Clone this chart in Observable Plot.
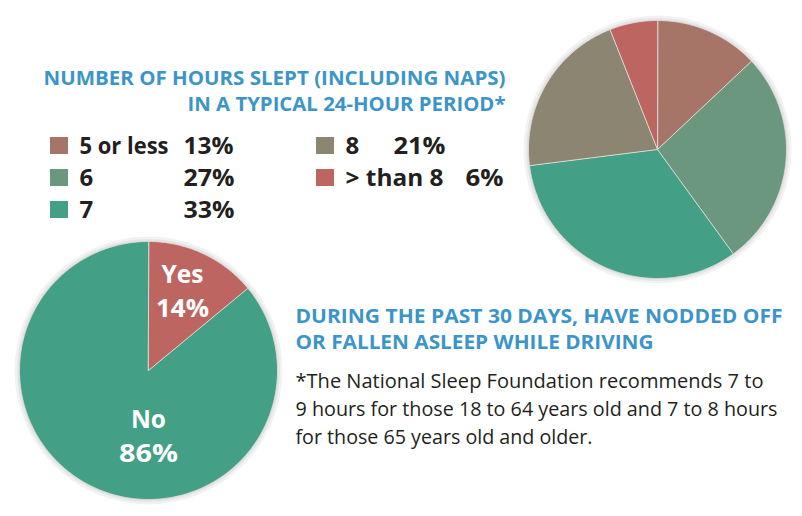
<!DOCTYPE html>
<html><head><meta charset="utf-8">
<script src="https://cdn.jsdelivr.net/npm/d3@7"></script>
<script src="https://cdn.jsdelivr.net/npm/@observablehq/plot@0.6"></script>
<style>
html,body{margin:0;padding:0;background:#fff;}
#chart{width:802px;height:516px;overflow:hidden;}
</style></head><body><div id="chart"></div>
<script>
// ---- data ----
const hoursCategories = ["5 or less", "6", "7", "8", "> than 8"];
const hoursValues = [13, 27, 33, 21, 6];
const hoursColors = ["#a77567", "#6a977d", "#43a086", "#8b8571", "#bd6560"];
const drivingCategories = ["Yes", "No"];
const drivingValues = [14, 86];
const drivingColors = ["#bd6560", "#43a086"];
const hoursTitle = ["NUMBER OF HOURS SLEPT (INCLUDING NAPS)", "IN A TYPICAL 24-HOUR PERIOD*"];
const drivingTitle = ["DURING THE PAST 30 DAYS, HAVE NODDED OFF", "OR FALLEN ASLEEP WHILE DRIVING"];
const footnote = [
  "*The National Sleep Foundation recommends 7 to",
  "9 hours for those 18 to 64 years old and 7 to 8 hours",
  "for those 65 years old and older."
];

// ---- layout ----
const W = 802, H = 516, R = 129;
const hoursPie = {cx: 657, cy: 149};
const drivingPie = {cx: 148, cy: 370};
const blue = "#3b95c9", ink = "#231f20";
const font = "'Open Sans', sans-serif";
const legendCols = [{sw: 50, label: 79}, {sw: 316, label: 345}];
const legendValueX = [183, 183, 183, 393, 465];
const legendRowY = [153, 185, 217];
const drivingLabelPos = [{x: 182, y: 282}, {x: 148, y: 427}];
const pctOffset = 34;
const fitWidths = new Map([
  [hoursTitle[0], 462], [hoursTitle[1], 318],
  [drivingTitle[0], 487], [drivingTitle[1], 358],
  [footnote[0], 468], [footnote[1], 482], [footnote[2], 297],
  ["5 or less", 89], ["> than 8", 98],
  ["13%", 50], ["27%", 51], ["33%", 51], ["21%", 52], ["6%", 38],
  ["Yes", 42], ["14%", 53], ["No", 35], ["86%", 59]
]);

function slices(cats, vals, colors, c, key) {
  const total = d3.sum(vals);
  let acc = 0;
  const pts = [];
  cats.forEach((cat, i) => {
    const a0 = acc / total * 2 * Math.PI;
    acc += vals[i];
    const a1 = acc / total * 2 * Math.PI;
    const n = Math.max(2, Math.ceil((a1 - a0) / (Math.PI / 360)));
    pts.push({id: key + i, fill: colors[i], x: c.cx, y: c.cy});
    for (let k = 0; k <= n; k++) {
      const a = a0 + (a1 - a0) * k / n;
      pts.push({id: key + i, fill: colors[i], x: c.cx + R * Math.sin(a), y: c.cy - R * Math.cos(a)});
    }
  });
  return pts;
}

const slicePts = [
  ...slices(hoursCategories, hoursValues, hoursColors, hoursPie, "h"),
  ...slices(drivingCategories, drivingValues, drivingColors, drivingPie, "d")
];

const legend = hoursCategories.map((c, i) => ({
  label: c, value: hoursValues[i] + "%", color: hoursColors[i],
  col: i < 3 ? 0 : 1, row: i < 3 ? i : i - 3, vx: legendValueX[i]
}));

const drivingLabels = drivingCategories.map((c, i) => ({
  name: c, pct: drivingValues[i] + "%", ...drivingLabelPos[i]
}));

const pieCenters = [hoursPie, drivingPie];

const svg = Plot.plot({
  width: W, height: H,
  margin: 0, marginTop: 0, marginRight: 0, marginBottom: 0, marginLeft: 0,
  x: {type: "identity", axis: null},
  y: {type: "identity", axis: null},
  color: {type: "identity"},
  style: {fontFamily: font, background: "#fff", overflow: "visible"},
  marks: [
    // soft shadow around the pies
    Plot.dot(pieCenters, {x: "cx", y: "cy", r: R + 2, fill: "none", stroke: "#000", strokeOpacity: 0.05, strokeWidth: 6}),
    Plot.dot(pieCenters, {x: "cx", y: "cy", r: R + 1, fill: "none", stroke: "#000", strokeOpacity: 0.05, strokeWidth: 3}),
    Plot.line(slicePts, {x: "x", y: "y", z: "id", fill: "fill", stroke: "#e2dcd8", strokeWidth: 0.9, curve: "linear-closed"}),
    // hours title
    Plot.text(hoursTitle, {x: 505, y: (d, i) => 84 + i * 26, text: d => d, textAnchor: "end", lineAnchor: "bottom", fill: blue, fontSize: 19, fontWeight: 700}),
    // legend
    Plot.rect(legend, {x1: d => legendCols[d.col].sw, x2: d => legendCols[d.col].sw + 18, y1: d => legendRowY[d.row] - 16, y2: d => legendRowY[d.row] + 1, fill: "color"}),
    Plot.text(legend, {x: d => legendCols[d.col].label, y: d => legendRowY[d.row], text: "label", textAnchor: "start", lineAnchor: "bottom", fill: ink, fontSize: 24, fontWeight: 700}),
    Plot.text(legend, {x: "vx", y: d => legendRowY[d.row], text: "value", textAnchor: "start", lineAnchor: "bottom", fill: ink, fontSize: 24, fontWeight: 700}),
    // driving title
    Plot.text(drivingTitle, {x: 295, y: (d, i) => 322 + i * 26, text: d => d, textAnchor: "start", lineAnchor: "bottom", fill: blue, fontSize: 19, fontWeight: 700}),
    // footnote
    Plot.text(footnote, {x: 295, y: (d, i) => 387 + i * 28, text: d => d, textAnchor: "start", lineAnchor: "bottom", fill: ink, fontSize: 20.5, fontWeight: 400}),
    // pie labels
    Plot.text(drivingLabels, {x: "x", y: "y", text: "name", textAnchor: "middle", lineAnchor: "bottom", fill: "#fff", fontSize: 25, fontWeight: 700}),
    Plot.text(drivingLabels, {x: "x", y: d => d.y + pctOffset, text: "pct", textAnchor: "middle", lineAnchor: "bottom", fill: "#fff", fontSize: 25, fontWeight: 700})
  ]
});

d3.select(svg).selectAll("text, tspan").each(function () {
  const w = fitWidths.get(this.textContent);
  if (w && (this.tagName === "tspan" || this.querySelector("tspan") == null)) {
    this.setAttribute("textLength", w);
    this.setAttribute("lengthAdjust", "spacingAndGlyphs");
  }
});

document.getElementById("chart").appendChild(svg);
</script>
</body></html>
